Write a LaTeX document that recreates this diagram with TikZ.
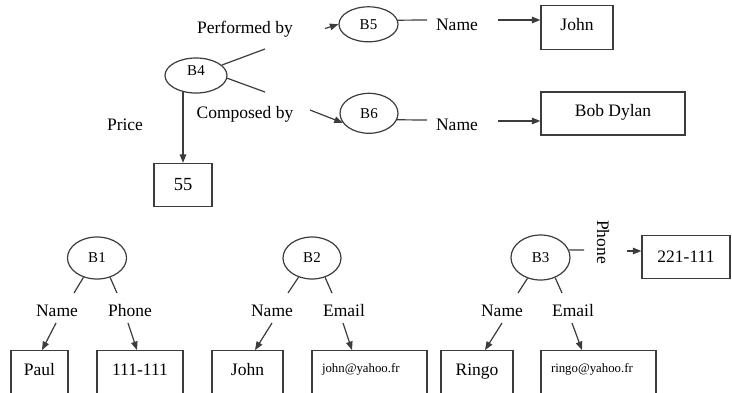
\documentclass[tikz,border=0pt]{standalone}
\usepackage{fontspec}
\setmainfont{Liberation Serif}
\usetikzlibrary{arrows.meta,shapes.geometric,calc}
\definecolor{linec}{RGB}{60,60,60}
\newcommand\labfont{\fontsize{17.5}{20}\selectfont}
\newcommand\bubfont{\fontsize{15}{17}\selectfont}
\newcommand\mailfont{\fontsize{12.8}{14}\selectfont}
\begin{document}
\begin{tikzpicture}[x=1pt,y=-1pt,
  ln/.style={draw=linec, line width=1.2pt},
  arr/.style={ln, -{Triangle[length=8.5pt,width=6.5pt]}},
  bub/.style={ellipse, draw=linec, line width=1.2pt, inner sep=0pt, font=\bubfont},
  rbox/.style={rectangle, draw=linec, line width=1.2pt, inner sep=0pt, font=\labfont},
  lowbox/.style={rbox, minimum height=43pt, text height=12pt, text depth=6.4pt},
  mailbox/.style={rbox, minimum width=115pt, minimum height=43pt, font=\mailfont, text width=95pt, align=left, text height=8pt, text depth=8pt},
  lab/.style={inner sep=0pt, font=\labfont, anchor=base},
]
\useasboundingbox (0,0) rectangle (732,392);
\clip (0,0) rectangle (732,392);
\fill[white] (0,0) rectangle (732,392);

% ---------- top part ----------
\node[bub, minimum width=62pt, minimum height=35pt, text depth=9.5pt] (B4) at (196,75.5) {B4};
\node[bub, minimum width=59pt, minimum height=35pt] (B5) at (368.5,24.3) {B5};
\node[bub, minimum width=58pt, minimum height=40pt] (B6) at (369,113.3) {B6};

\node[lab] (perf) at (245,33.5) {Performed by};
\node[lab] (comp) at (245,118.5) {Composed by};
\node[lab] (nm5) at (457,30) {Name};
\node[lab] (nm6) at (457,130.5) {Name};
\node[lab] (price) at (125,130) {Price};

\node[rbox, minimum width=72pt, minimum height=44pt, text height=12pt, text depth=7pt] (john1) at (577,27.5) {John};
\node[rbox, minimum width=144pt, minimum height=43pt, text height=12pt, text depth=5.6pt] (bob) at (613,113.5) {Bob Dylan};
\node[rbox, minimum width=58pt, minimum height=43pt, font=\fontsize{18.5}{20}\selectfont] (p55) at (183,185) {55};

\coordinate (u1) at (265,49);
\coordinate (u2) at (265,92);
\coordinate (a5) at (325,28.5);
\coordinate (a6) at (310,110);
\coordinate (c5) at (427,20);
\coordinate (c6) at (427,120);
\coordinate (d5) at (498,20);
\coordinate (d6) at (498,121);

\draw[ln] (B4.22) -- (u1);
\draw[ln] (B4.-5) -- (u2);
\draw[arr] (a5) -- (B5.west);
\draw[arr] (a6) -- (B6.200);
\draw[ln] (B5.8) -- (c5);
\draw[ln] (B6.-13) -- (c6);
\draw[arr] (d5) -- ($(john1.west)+(0,-7.5)$);
\draw[arr] (d6) -- ($(bob.west)+(0,7.5)$);
\draw[arr] (p55.north |- B4.233) -- (p55.north);

% ---------- bottom part ----------
\node[bub, minimum width=59pt, minimum height=42pt] (B1) at (97,258) {B1};
\node[bub, minimum width=58pt, minimum height=42pt] (B2) at (312,258) {B2};
\node[bub, minimum width=59pt, minimum height=45pt] (B3) at (540.5,257.5) {B3};

\node[lab] (nA) at (57,316.5) {Name};
\node[lab] (pA) at (130,316.5) {Phone};
\node[lab] (nB) at (272,316.5) {Name};
\node[lab] (eB) at (344,316.5) {Email};
\node[lab] (nC) at (502,316.5) {Name};
\node[lab] (eC) at (573,316.5) {Email};
\node[inner sep=0pt, font=\labfont, rotate=-90] (pC) at (603,242) {Phone};

\node[lowbox, minimum width=57pt] (paul) at (39.5,372.2) {Paul};
\node[lowbox, minimum width=86pt] (ph1) at (140,372.2) {111-111};
\node[lowbox, minimum width=71pt] (john2) at (247.5,372.2) {John};
\node[mailbox] (mail2) at (369.5,372.2) {john@yahoo.fr};
\node[lowbox, minimum width=72pt] (ringo) at (477,372.2) {Ringo};
\node[mailbox] (mail3) at (598.5,372.2) {ringo@yahoo.fr};
\node[rbox, minimum width=88pt, minimum height=42.6pt] (ph3) at (686,257) {221-111};

\coordinate (e1) at (74,293);
\coordinate (e2) at (117,293);
\coordinate (e3) at (288,293);
\coordinate (e4) at (332,293);
\coordinate (e5) at (518,293);
\coordinate (e6) at (562,293);
\coordinate (f1) at (56,323);
\coordinate (f2) at (128,323);
\coordinate (f3) at (272,323);
\coordinate (f4) at (343,323);
\coordinate (f5) at (502,323);
\coordinate (f6) at (572,323);
\coordinate (g1) at (584,250);
\coordinate (g2) at (627,251);

\draw[ln] (B1.235) -- (e1);
\draw[ln] (B1.304) -- (e2);
\draw[ln] (B2.235) -- (e3);
\draw[ln] (B2.304) -- (e4);
\draw[ln] (B3.238) -- (e5);
\draw[ln] (B3.306) -- (e6);
\draw[ln] (B3.15) -- (g1);

\draw[arr] (f1) -- ($(paul.north)+(2.5,0)$);
\draw[arr] (f2) -- ($(ph1.north)+(-3,0)$);
\draw[arr] (f3) -- ($(john2.north)+(7.5,0)$);
\draw[arr] (f4) -- ($(mail2.north)+(-17.5,0)$);
\draw[arr] (f5) -- ($(ringo.north)+(8,0)$);
\draw[arr] (f6) -- ($(mail3.north)+(-16.5,0)$);
\draw[arr] (g2) -- ($(ph3.west)+(0,-6)$);
\end{tikzpicture}
\end{document}
